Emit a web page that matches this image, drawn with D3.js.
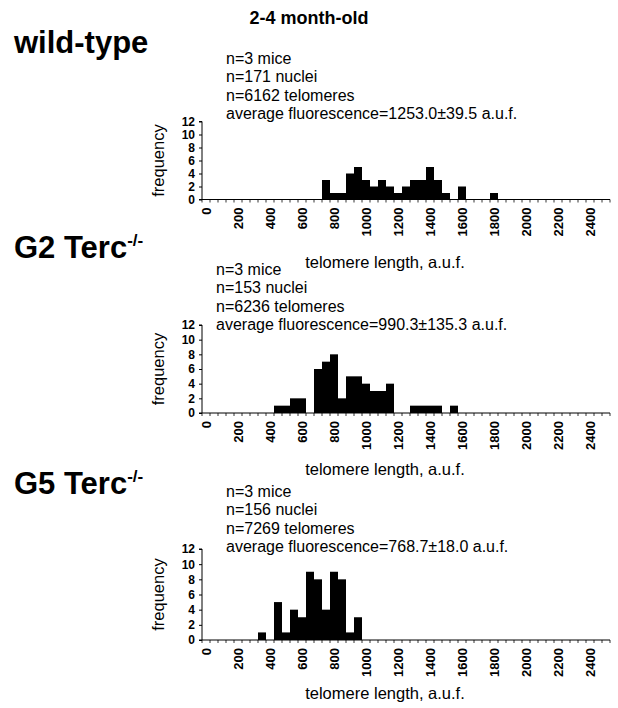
<!DOCTYPE html>
<html>
<head>
<meta charset="utf-8">
<script src="https://cdn.jsdelivr.net/npm/d3@7"></script>
<style>
  body { margin: 0; background: #fff; }
  text { font-family: "Liberation Sans", Arial, Helvetica, sans-serif; fill: #000; }
</style>
</head>
<body>
<div id="chart"></div>
<script>
// Constants for the figure
const WIDTH = 618;
const HEIGHT = 708;
const FONT = '"Liberation Sans", Arial, Helvetica, sans-serif';
const X_LEFT = 202;
const X_RIGHT = 610;

// bins of 50 a.u.f., 0 .. 2500
const BIN_WIDTH = 50;
const binStarts = d3.range(0, 2550, BIN_WIDTH);
const xTickLabels = ["0", "200", "400", "600", "800", "1000", "1200", "1400", "1600", "1800", "2000", "2200", "2400"];
const yTicks = [0, 2, 4, 6, 8, 10, 12];

// frequency per bin
const wildTypeCounts = [0,0,0,0,0,0,0,0,0,0, 0,0,0,0,0,3,1,1,4,5, 3,2,3,2,1,2,3,3,5,3, 1,0,2,0,0,0,1,0,0,0, 0,0,0,0,0,0,0,0,0,0, 0];
const g2Counts       = [0,0,0,0,0,0,0,0,0,1, 1,2,2,0,6,7,8,2,5,5, 4,3,3,4,0,0,1,1,1,1, 0,1,0,0,0,0,0,0,0,0, 0,0,0,0,0,0,0,0,0,0, 0];
const g5Counts       = [0,0,0,0,0,0,0,1,0,5, 1,4,3,9,8,4,9,8,1,3, 0,0,0,0,0,0,0,0,0,0, 0,0,0,0,0,0,0,0,0,0, 0,0,0,0,0,0,0,0,0,0, 0];

const wildTypeStats = ["n=3 mice", "n=171 nuclei", "n=6162 telomeres", "average fluorescence=1253.0\u00b139.5 a.u.f."];
const g2Stats = ["n=3 mice", "n=153 nuclei", "n=6236  telomeres", "average fluorescence=990.3\u00b1135.3 a.u.f."];
const g5Stats = ["n=3 mice", "n=156 nuclei", "n=7269 telomeres", "average fluorescence=768.7\u00b118.0 a.u.f."];

// layout of each panel (vertical positions only)
const panels = [
  { name: "wild-type", sup: "", nameY: 53, counts: wildTypeCounts, stats: wildTypeStats, statsX: 226, statsY: 119, top: 121.5, bottom: 199.5, xLabelY: 268 },
  { name: "G2 Terc", sup: "-/-", nameY: 258, counts: g2Counts, stats: g2Stats, statsX: 216, statsY: 330, top: 325, bottom: 413, xLabelY: 475 },
  { name: "G5 Terc", sup: "-/-", nameY: 494, counts: g5Counts, stats: g5Stats, statsX: 226, statsY: 552, top: 549, bottom: 640, xLabelY: 699 }
];

const svg = d3.select("#chart").append("svg")
  .attr("width", WIDTH)
  .attr("height", HEIGHT)
  .style("font-family", FONT);

svg.append("text")
  .attr("x", 309)
  .attr("y", 24)
  .attr("text-anchor", "middle")
  .style("font-size", "18px")
  .style("font-weight", "bold")
  .text("2-4 month-old");

const xScale = d3.scaleBand()
  .domain(binStarts)
  .range([X_LEFT, X_RIGHT])
  .padding(0);

function drawPanel(p) {
  let g = svg.append("g");

  // group name at left
  let name = g.append("text")
    .attr("x", 14)
    .attr("y", p.nameY)
    .style("font-size", "31px")
    .style("font-weight", "bold")
    .text(p.name);
  if (p.sup) {
    name.append("tspan")
      .attr("dy", -12)
      .style("font-size", "17px")
      .text(p.sup);
  }

  // n= lines
  g.append("g").selectAll("text")
    .data(p.stats)
    .enter()
    .append("text")
    .attr("x", p.statsX)
    .attr("y", (d, i) => p.statsY - (p.stats.length - 1 - i) * 18.5)
    .style("font-size", "16px")
    .text(d => d);

  let yScale = d3.scaleLinear().domain([0, 12]).range([p.bottom, p.top]);

  // bars
  g.append("g").selectAll("rect")
    .data(binStarts.map((b, i) => ({ bin: b, v: p.counts[i] })).filter(d => d.v > 0))
    .enter()
    .append("rect")
    .attr("x", d => xScale(d.bin))
    .attr("y", d => yScale(d.v))
    .attr("width", xScale.bandwidth())
    .attr("height", d => yScale(0) - yScale(d.v))
    .attr("fill", "#000");

  // y axis
  let yAxis = d3.axisLeft(yScale).tickValues(yTicks).tickSize(3).tickPadding(4);
  g.append("g")
    .attr("transform", "translate(" + X_LEFT + ",0)")
    .call(yAxis)
    .call(a => a.select(".domain").attr("d", "M-3," + p.top + "H0V" + p.bottom + "H-3"))
    .call(a => a.selectAll("text").style("font-size", "12px").style("font-weight", "bold").style("font-family", FONT));

  // x axis: minor ticks on each bin edge
  let edges = binStarts.map(b => xScale(b)).concat([X_RIGHT]);
  g.append("line")
    .attr("x1", X_LEFT).attr("x2", X_RIGHT)
    .attr("y1", p.bottom).attr("y2", p.bottom)
    .attr("stroke", "#000").attr("stroke-width", 1);
  g.append("g").selectAll("line")
    .data(edges)
    .enter()
    .append("line")
    .attr("x1", d => d).attr("x2", d => d)
    .attr("y1", p.bottom).attr("y2", p.bottom + 3)
    .attr("stroke", "#000").attr("stroke-width", 0.8);

  // rotated tick labels
  g.append("g").selectAll("text")
    .data(xTickLabels)
    .enter()
    .append("text")
    .attr("transform", d => "translate(" + (xScale(+d) + xScale.bandwidth() / 2 + 4.5) + "," + (p.bottom + 8) + ") rotate(-90)")
    .attr("text-anchor", "end")
    .style("font-size", "13px")
    .style("font-weight", "bold")
    .text(d => d);

  g.append("text")
    .attr("x", 385)
    .attr("y", p.xLabelY)
    .attr("text-anchor", "middle")
    .style("font-size", "16.5px")
    .text("telomere length, a.u.f.");

  g.append("text")
    .attr("transform", "translate(" + 164 + "," + ((p.top + p.bottom) / 2) + ") rotate(-90)")
    .attr("text-anchor", "middle")
    .style("font-size", "16.5px")
    .text("frequency");
}

panels.forEach(drawPanel);
</script>
</body>
</html>
